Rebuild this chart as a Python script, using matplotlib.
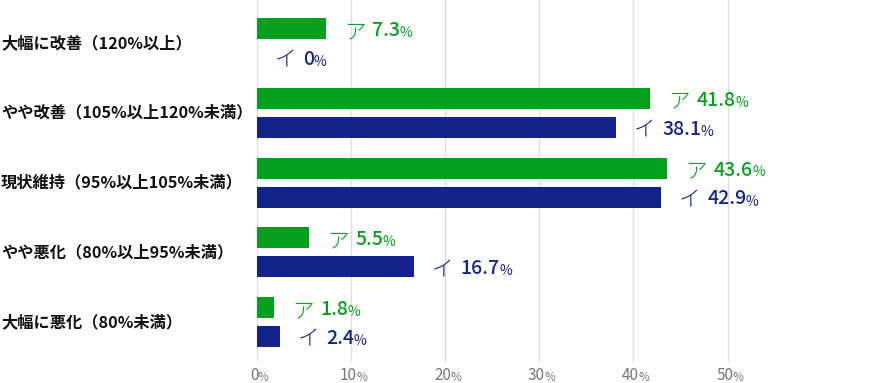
import matplotlib
matplotlib.use('Agg')
import matplotlib.pyplot as plt
import matplotlib.transforms as mtransforms
import numpy as np

plt.rcParams['font.family'] = ['Noto Sans CJK JP', 'DejaVu Sans']

# data
categories = ['大幅に改善（120%以上）', 'やや改善（105%以上120%未満）',
              '現状維持（95%以上105%未満）', 'やや悪化（80%以上95%未満）',
              '大幅に悪化（80%未満）']
series_names = ['ア', 'イ']
values_a = [7.3, 41.8, 43.6, 5.5, 1.8]
values_i = [0, 38.1, 42.9, 16.7, 2.4]
ticks = [0, 10, 20, 30, 40, 50]

green = '#03a01e'
navy = '#13238b'

fig = plt.figure(figsize=(8.7, 3.83), dpi=100)
W, H = 870, 383
ax_left, ax_top, ax_bottom = 257, 0, 362
ax = fig.add_axes([ax_left / W, 1 - ax_bottom / H, (W - ax_left) / W, (ax_bottom - ax_top) / H])

unit = 69.75       # px between groups
first_center = 43  # px of first group center
ax.set_ylim((ax_bottom - first_center) / unit, (ax_top - first_center) / unit)
ax.set_xlim(0, (W - ax_left) / 9.41)

y = np.arange(len(categories))
bar_h = 21 / unit
off = 14.5 / unit

# grid lines
for t in ticks:
    ax.axvline(t, color='#dddddd', lw=1, zorder=0)

ax.barh(y - off, values_a, height=bar_h, color=green, zorder=2)
ax.barh(y + off, values_i, height=bar_h, color=navy, zorder=2)

for s in ax.spines.values():
    s.set_visible(False)
ax.set_xticks([])
ax.set_yticks([])


def value_label(val, yy, name, color):
    t1 = ax.annotate(name, xy=(val, yy), xytext=(13, -2.5), textcoords='offset points',
                     ha='left', va='center', fontsize=15.5, fontweight='light', color=color)
    t2 = ax.annotate(f'{val:g}', xy=(1, yy), xycoords=(t1, 'data'), xytext=(5, 0),
                     textcoords='offset points', ha='left', va='center_baseline',
                     fontsize=14, fontweight='medium', color=color)
    ax.annotate('%', xy=(1, 0), xycoords=t2, xytext=(-0.5, 0), textcoords='offset points',
                ha='left', va='bottom', fontsize=10, color=color)


for i in range(len(categories)):
    value_label(values_a[i], y[i] - off, series_names[0], green)
    value_label(values_i[i], y[i] + off, series_names[1], navy)

# category labels at the left edge of the figure
trans = mtransforms.blended_transform_factory(fig.transFigure, ax.transData)
for i, c in enumerate(categories):
    ax.text(1 / W, y[i], c, transform=trans, ha='left', va='center',
            fontsize=11.7, fontweight='bold', color='#111111')

# tick labels
xtrans = ax.get_xaxis_transform()
for t in ticks:
    n = ax.annotate(str(t), xy=(t, 0), xycoords=xtrans, xytext=(-2, -10),
                    textcoords='offset points', ha='center', va='center',
                    fontsize=11, color='#777777', annotation_clip=False)
    ax.annotate('%', xy=(1, 0), xycoords=n, xytext=(-0.5, 0), textcoords='offset points',
                ha='left', va='bottom', fontsize=8.5, color='#777777',
                annotation_clip=False)

fig.savefig('out.png', dpi=100)
